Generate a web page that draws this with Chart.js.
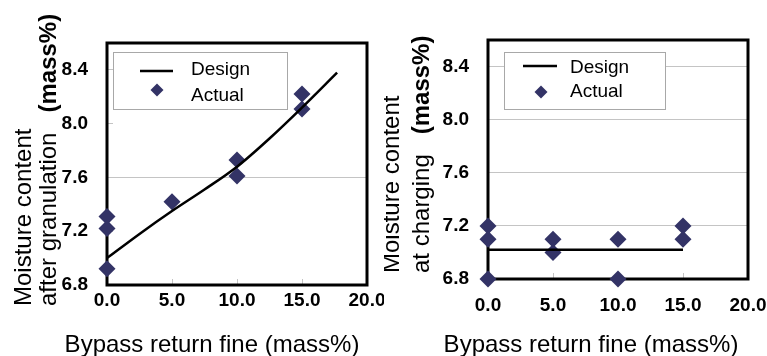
<!DOCTYPE html>
<html>
<head>
<meta charset="utf-8">
<script src="https://cdn.jsdelivr.net/npm/chart.js@4.4.1/dist/chart.umd.min.js"></script>
<style>
  html, body { margin: 0; padding: 0; background: #fff; }
  #wrap { position: relative; width: 767px; height: 356px; overflow: hidden; }
  canvas { position: absolute; top: 0; }
</style>
</head>
<body>
<div id="wrap">
  <canvas id="granulation" width="384" height="356" style="left:0"></canvas>
  <canvas id="charging" width="383" height="356" style="left:384px"></canvas>
</div>
<script>
// bypass return fine (mass%) on x, moisture content (mass%) on y
const xTicks = [0, 5, 10, 15, 20]
const yTicks = [6.8, 7.2, 7.6, 8.0, 8.4]

// moisture after granulation
const granDesignX = [0, 2.5, 5, 7.5, 10, 12.5, 15, 17.7]
const granDesignY = [7.0, 7.18, 7.35, 7.51, 7.68, 7.89, 8.12, 8.38]
const granActualX = [0, 0, 0, 5, 10, 10, 15, 15]
const granActualY = [7.31, 7.22, 6.92, 7.42, 7.73, 7.61, 8.22, 8.11]

// moisture at charging
const chargeDesignX = [0, 15]
const chargeDesignY = [7.02, 7.02]
const chargeActualX = [0, 0, 0, 5, 5, 10, 10, 15, 15]
const chargeActualY = [7.2, 7.1, 6.8, 7.1, 7.0, 7.1, 6.8, 7.2, 7.1]

const navy = '#333366'
const gridGray = '#c4c4c4'
const fontFamily = "'Liberation Sans', Arial, sans-serif"

Chart.defaults.font.family = fontFamily
Chart.defaults.color = '#000'

function toPoints(xs, ys) {
    return xs.map((x, i) => ({ x: x, y: ys[i] }))
}

// thick black box round the plot area, drawn under the markers
const framePlugin = {
    id: 'frame',
    beforeDatasetsDraw(chart) {
        const a = chart.chartArea
        const ctx = chart.ctx
        ctx.save()
        ctx.strokeStyle = '#000'
        ctx.lineWidth = 3
        ctx.strokeRect(a.left, a.top, a.right - a.left, a.bottom - a.top)
        ctx.restore()
    }
}

// axis titles (the y one mixes plain and bold text) and the boxed legend
const textPlugin = {
    id: 'texts',
    afterDraw(chart, args, o) {
        const ctx = chart.ctx
        ctx.save()
        ctx.fillStyle = '#000'
        ctx.textBaseline = 'alphabetic'

        // x title
        ctx.font = '24px ' + fontFamily
        ctx.textAlign = 'center'
        ctx.fillText(o.xTitle, o.xTitleX, o.xTitleY)

        // y title, two rotated lines
        ctx.textAlign = 'left'
        ctx.save()
        ctx.translate(o.yLine1X, o.yStart)
        ctx.rotate(-Math.PI / 2)
        ctx.fillText(o.yLine1, 0, 0)
        ctx.restore()

        ctx.save()
        ctx.translate(o.yLine2X, o.yStart)
        ctx.rotate(-Math.PI / 2)
        ctx.fillText(o.yLine2, 0, 0)
        const w = ctx.measureText(o.yLine2).width
        ctx.font = 'bold 24px ' + fontFamily
        ctx.fillText(o.yUnit, w + 20, 0)
        ctx.restore()

        // legend
        const lg = o.legend
        ctx.fillStyle = '#fff'
        ctx.fillRect(lg.x, lg.y, lg.w, lg.h)
        ctx.strokeStyle = '#a8a8a8'
        ctx.lineWidth = 1
        ctx.strokeRect(lg.x + 0.5, lg.y + 0.5, lg.w, lg.h)

        const design = chart.data.datasets[0]
        const actual = chart.data.datasets[1]
        ctx.strokeStyle = design.borderColor
        ctx.lineWidth = design.borderWidth
        ctx.beginPath()
        ctx.moveTo(lg.lineX1, lg.lineY)
        ctx.lineTo(lg.lineX2, lg.lineY)
        ctx.stroke()

        ctx.fillStyle = actual.backgroundColor
        Chart.helpers.drawPoint(ctx, { pointStyle: 'rectRot', radius: 6.5, rotation: 0, borderWidth: 0 }, lg.markX, lg.markY)

        ctx.fillStyle = '#000'
        ctx.font = '19px ' + fontFamily
        ctx.textBaseline = 'middle'
        ctx.fillText(design.label, lg.textX, lg.designY)
        ctx.fillText(actual.label, lg.textX, lg.actualY)
        ctx.restore()
    }
}

function renderChart(canvas, c) {
    return new Chart(canvas, {
        type: 'scatter',
        data: {
            datasets: [{
                label: 'Design',
                data: toPoints(c.designX, c.designY),
                showLine: true,
                borderColor: '#000',
                borderWidth: 2.5,
                pointRadius: 0,
                cubicInterpolationMode: 'monotone',
                clip: false
            }, {
                label: 'Actual',
                data: toPoints(c.actualX, c.actualY),
                showLine: false,
                pointStyle: 'rectRot',
                pointRadius: 8.5,
                backgroundColor: navy,
                borderWidth: 0,
                clip: false
            }]
        },
        options: {
            responsive: false,
            animation: false,
            devicePixelRatio: 1,
            layout: { padding: { top: c.top, right: c.right, left: 0, bottom: 0 } },
            plugins: {
                legend: { display: false },
                tooltip: { enabled: false },
                texts: c.texts
            },
            scales: {
                x: {
                    type: 'linear',
                    min: 0,
                    max: 20,
                    afterBuildTicks: s => { s.ticks = xTicks.map(v => ({ value: v })) },
                    afterFit: s => { s.height = c.xHeight; s.paddingLeft = 0; s.paddingRight = 0 },
                    border: { display: false },
                    grid: { color: 'transparent', tickColor: gridGray, tickLength: -6, tickWidth: 1 },
                    ticks: {
                        padding: c.xPad,
                        maxRotation: 0,
                        font: { size: 19, weight: 'bold' },
                        callback: v => v.toFixed(1)
                    }
                },
                y: {
                    type: 'linear',
                    min: 6.8,
                    max: 8.6,
                    afterBuildTicks: s => { s.ticks = yTicks.map(v => ({ value: v })) },
                    afterFit: s => { s.width = c.yWidth; s.paddingTop = 0; s.paddingBottom = 0 },
                    border: { display: false },
                    grid: {
                        color: g => c.yGrid(g.tick ? g.tick.value : null) ? gridGray : 'transparent',
                        tickColor: gridGray,
                        tickLength: -6,
                        lineWidth: 1
                    },
                    ticks: {
                        padding: 25,
                        font: { size: 19, weight: 'bold' },
                        callback: v => v.toFixed(1)
                    }
                }
            }
        },
        plugins: [framePlugin, textPlugin]
    })
}

renderChart(document.getElementById('granulation'), {
    designX: granDesignX, designY: granDesignY,
    actualX: granActualX, actualY: granActualY,
    top: 43, right: 17, yWidth: 107, xHeight: 71, xPad: 10,
    // only the 7.6 line runs across this panel
    yGrid: v => v !== null && Math.abs(v - 7.6) < 1e-6,
    texts: {
        xTitle: 'Bypass return fine (mass%)', xTitleX: 212, xTitleY: 352,
        yLine1: 'Moisture content', yLine2: 'after granulation', yUnit: '(mass%)',
        yLine1X: 31, yLine2X: 56, yStart: 306,
        legend: {
            x: 113, y: 52, w: 174, h: 57,
            lineX1: 140, lineX2: 173, lineY: 71,
            markX: 157, markY: 90,
            textX: 191, designY: 70, actualY: 96
        }
    }
})

renderChart(document.getElementById('charging'), {
    designX: chargeDesignX, designY: chargeDesignY,
    actualX: chargeActualX, actualY: chargeActualY,
    top: 40, right: 19, yWidth: 104, xHeight: 77, xPad: 21,
    yGrid: v => v !== null && v > 6.9,
    texts: {
        xTitle: 'Bypass return fine (mass%)', xTitleX: 207, xTitleY: 352,
        yLine1: 'Moisture content', yLine2: 'at charging', yUnit: '(mass%)',
        yLine1X: 15, yLine2X: 45, yStart: 273,
        legend: {
            x: 120, y: 52, w: 161, h: 57,
            lineX1: 139, lineX2: 173, lineY: 66,
            markX: 157, markY: 92,
            textX: 186, designY: 68, actualY: 92
        }
    }
})
</script>
</body>
</html>
